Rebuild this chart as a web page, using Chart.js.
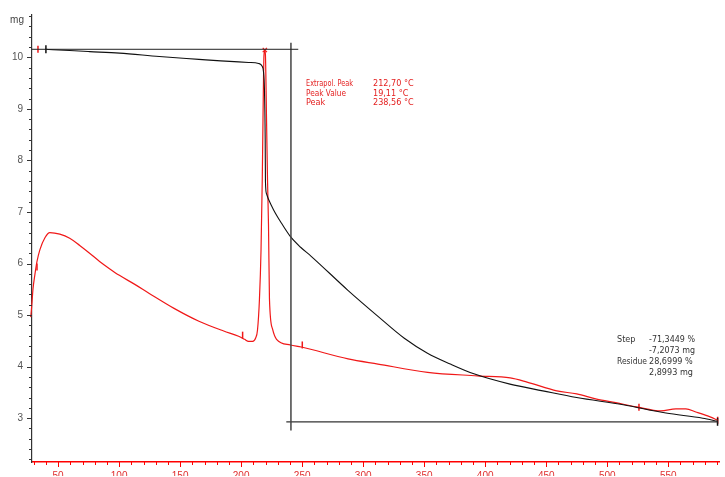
<!DOCTYPE html>
<html><head><meta charset="utf-8">
<script src="https://cdn.jsdelivr.net/npm/chart.js@4/dist/chart.umd.min.js"></script>
<style>html,body{margin:0;padding:0;background:#fff;overflow:hidden}#wrap{width:725px;height:477px;position:relative}</style>
</head><body><div id="wrap"><canvas id="c" width="725" height="477"></canvas></div>
<script>
// ---- data (°C, mg) ----
const tgTemp = [39.2, 59.5, 75.8, 100.3, 132.9, 165.4, 183.3, 206.1, 214.3, 217.1, 218.3, 219.1, 219.7, 219.9, 220.8, 222.5, 226.6, 232.3, 240.1, 248.5, 257.4, 287.5, 311.9, 333.7, 352.7, 371.4, 390.7, 420.3, 447.2, 474.9, 513.1, 548.1, 578.3, 590.5];
const tgMass = [10.155, 10.13, 10.11, 10.08, 10.015, 9.96, 9.93, 9.90, 9.88, 9.83, 9.72, 9.37, 8.40, 7.60, 7.35, 7.24, 7.04, 6.81, 6.53, 6.32, 6.14, 5.48, 4.98, 4.55, 4.26, 4.05, 3.86, 3.66, 3.53, 3.40, 3.26, 3.10, 3.00, 2.94];
const dtaTemp = [25.0, 26.5, 27.5, 28.6, 29.4, 31.0, 32.7, 35.1, 39.2, 43.2, 51.4, 59.5, 67.7, 75.8, 84.0, 92.1, 100.2, 112.5, 124.7, 145.0, 165.4, 185.7, 197.9, 202.8, 206.1, 209.4, 211.8, 213.4, 215.0, 216.3, 217.3, 217.9, 218.7, 219.4, 219.9, 220.8, 221.6, 222.4, 223.2, 225.7, 229.0, 240.4, 249.3, 287.6, 312.1, 352.8, 393.6, 420.5, 434.3, 458.7, 475.0, 491.3, 507.0, 523.9, 544.0, 556.3, 564.4, 572.6, 584.8, 590.5];
const dtaSignal = [4.92, 4.92, 4.96, 5.25, 5.50, 5.79, 6.04, 6.27, 6.50, 6.60, 6.57, 6.49, 6.35, 6.20, 6.04, 5.90, 5.77, 5.60, 5.42, 5.13, 4.88, 4.69, 4.59, 4.53, 4.49, 4.49, 4.55, 4.71, 5.31, 6.27, 7.63, 8.79, 10.04, 10.14, 10.04, 8.79, 7.63, 6.76, 5.31, 4.73, 4.53, 4.42, 4.38, 4.15, 4.05, 3.89, 3.82, 3.78, 3.70, 3.53, 3.47, 3.37, 3.30, 3.22, 3.14, 3.18, 3.18, 3.12, 3.02, 2.96];
// step evaluation construction lines
const startLevelTemp = [28.6, 246.8];
const startLevelMass = [10.155, 10.155];
const peakLineTemp = [240.8, 240.8];
const peakLineMass = [10.28, 2.76];
const endLevelTemp = [237.0, 590.4];
const endLevelMass = [2.93, 2.93];
// small evaluation markers
const blackMarkTemp = [40.0, 590.4];
const blackMarkMass = [10.155, 2.93];
const redMarkTemp = [33.5, 32.7, 201.2, 250.1, 526.0, 590.5];
const redMarkSignal = [10.155, 5.93, 4.61, 4.42, 3.21, 2.96];
const peakTopTemp = [219.4];
const peakTopSignal = [10.14];
// ticks & texts
const xTickLabels = [50, 100, 150, 200, 250, 300, 350, 400, 450, 500, 550, 600];
const yTickLabels = [3, 4, 5, 6, 7, 8, 9, 10];
const yUnit = "mg";
const peakNames = ["Extrapol. Peak", "Peak Value", "Peak"];
const peakValues = ["212,70 °C", "19,11 °C", "238,56 °C"];
const stepNames = ["Step", "", "Residue", ""];
const stepValues = ["-71,3449 %", "-7,2073 mg", "28,6999 %", "2,8993 mg"];

const X_MIN = 28.6, X_MAX = 592, Y_MIN = 2.15, Y_MAX = 10.82;
const pts = (xs, ys) => xs.map((x, i) => ({x, y: ys[i]}));
const NARROW = '"Liberation Sans Narrow", "DejaVu Sans Condensed", "Liberation Sans", Arial, sans-serif';

const lineDs = (label, xs, ys, color, width, extra) => Object.assign({
  label, data: pts(xs, ys), showLine: true, borderColor: color, borderWidth: width,
  pointRadius: 0, fill: false, cubicInterpolationMode: 'monotone',
  clip: {left: 8, top: 5, right: 3, bottom: 0}
}, extra || {});

function fitText(ctx, t, x, y, maxW) {
  const w = ctx.measureText(t).width;
  if (w > maxW) {
    ctx.save(); ctx.translate(x, y); ctx.scale(maxW / w, 1); ctx.fillText(t, 0, 0); ctx.restore();
  } else ctx.fillText(t, x, y);
}

const tickPlugin = {
  id: 'tickPlugin',
  afterDraw(chart) {
    const ctx = chart.ctx, xs = chart.scales.x, ys = chart.scales.y;
    const ca = chart.chartArea;
    ctx.save();
    // y ticks
    ctx.strokeStyle = '#333'; ctx.lineWidth = 1;
    for (let k = Math.ceil(Y_MIN * 5); k <= Math.floor(Y_MAX * 5); k++) {
      const v = k / 5; const py = Math.round(ys.getPixelForValue(v)) + 0.5;
      const major = k % 5 === 0;
      ctx.beginPath(); ctx.moveTo(ca.left - (major ? 5 : 3), py); ctx.lineTo(ca.left, py); ctx.stroke();
    }
    // x ticks
    ctx.strokeStyle = '#f00';
    for (let v = 30; v <= X_MAX; v += 10) {
      const px = Math.round(xs.getPixelForValue(v)) + 0.5;
      const major = v % 50 === 0;
      ctx.beginPath(); ctx.moveTo(px, ca.bottom - 1); ctx.lineTo(px, ca.bottom + (major ? 5 : 3)); ctx.stroke();
    }
    // unit
    ctx.fillStyle = '#444'; ctx.font = '10px "Liberation Sans", Arial, sans-serif';
    ctx.textAlign = 'right'; ctx.textBaseline = 'middle';
    ctx.fillText(yUnit, 24, 20);
    // peak annotation
    ctx.textAlign = 'left';
    ctx.font = '9px ' + NARROW;
    ctx.fillStyle = '#e42020';
    peakNames.forEach((t, i) => {
      const y = 84 + i * 9.4;
      fitText(ctx, t, 306, y, t.length > 10 ? 47 : 40);
      fitText(ctx, peakValues[i], 373, y, 46);
    });
    ctx.fillStyle = '#333';
    stepNames.forEach((t, i) => {
      const y = 340 + i * 10.8;
      if (t) fitText(ctx, t, 617, y, 30);
      fitText(ctx, stepValues[i], 649, y, 46);
    });
    ctx.restore();
  }
};

new Chart(document.getElementById('c'), {
  type: 'scatter',
  data: {
    datasets: [
      lineDs('start level', startLevelTemp, startLevelMass, '#222', 1, {cubicInterpolationMode: 'default'}),
      lineDs('peak line', peakLineTemp, peakLineMass, '#444', 1.5, {cubicInterpolationMode: 'default'}),
      lineDs('end level', endLevelTemp, endLevelMass, '#333', 1.2, {cubicInterpolationMode: 'default'}),
      lineDs('TG', tgTemp, tgMass, '#111', 1.1),
      lineDs('DTA', dtaTemp, dtaSignal, '#f01818', 1.2),
      {label: 'tg marks', data: pts(blackMarkTemp, blackMarkMass), pointStyle: 'line', rotation: 90,
       pointRadius: 4, borderColor: '#111', borderWidth: 1.5, clip: false},
      {label: 'dta marks', data: pts(redMarkTemp, redMarkSignal), pointStyle: 'line', rotation: 90,
       pointRadius: 3.5, borderColor: '#f01818', borderWidth: 1.5, clip: false},
      {label: 'peak top', data: pts(peakTopTemp, peakTopSignal), pointStyle: 'crossRot',
       pointRadius: 3, borderColor: '#f01818', borderWidth: 1.2, clip: false}
    ]
  },
  options: {
    responsive: false, animation: false, devicePixelRatio: 1,
    layout: {padding: {top: 15, right: 1, left: 0, bottom: 0}},
    plugins: {legend: {display: false}, tooltip: {enabled: false}},
    scales: {
      x: {
        type: 'linear', min: X_MIN, max: X_MAX,
        afterBuildTicks: s => { s.ticks = xTickLabels.filter(v => v <= X_MAX).map(v => ({value: v})); },
        afterFit: s => { s.height = 14; },
        grid: {display: true, drawOnChartArea: false, drawTicks: false},
        border: {display: true, color: '#f00', width: 1.5},
        ticks: {color: '#e03030', padding: 8, maxRotation: 0, autoSkip: false,
          font: {family: '"Liberation Sans", Arial, sans-serif', size: 10}}
      },
      y: {
        type: 'linear', min: Y_MIN, max: Y_MAX,
        afterBuildTicks: s => { s.ticks = yTickLabels.map(v => ({value: v})); },
        afterFit: s => { s.width = 32; },
        grid: {display: true, drawOnChartArea: false, drawTicks: false},
        border: {display: true, color: '#333', width: 1.2},
        ticks: {color: '#555', padding: 9,
          font: {family: '"Liberation Sans", Arial, sans-serif', size: 10}}
      }
    }
  },
  plugins: [tickPlugin]
});
</script>
</body></html>
